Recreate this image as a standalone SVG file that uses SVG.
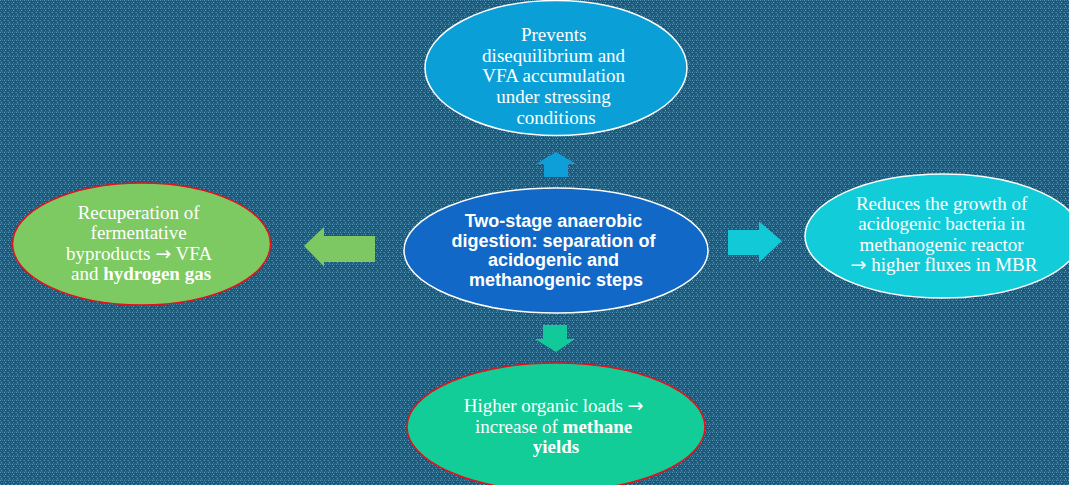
<svg xmlns="http://www.w3.org/2000/svg" width="1069" height="485" viewBox="0 0 1069 485">
  <defs>
    <pattern id="bg" width="8" height="8" patternUnits="userSpaceOnUse">
      <rect width="8" height="8" fill="#1d5878"/>
      <rect x="0" y="0" width="1" height="1" fill="#5093b4"/>
      <rect x="2" y="0" width="1" height="1" fill="#3d7ea0"/>
      <rect x="4" y="0" width="1" height="1" fill="#5093b4"/>
      <rect x="6" y="0" width="1" height="1" fill="#3d7ea0"/>
      <rect x="1" y="2" width="1" height="1" fill="#3d7ea0"/>
      <rect x="3" y="2" width="1" height="1" fill="#3d7ea0"/>
      <rect x="5" y="2" width="1" height="1" fill="#6ea9c6"/>
      <rect x="0" y="4" width="1" height="1" fill="#5093b4"/>
      <rect x="3" y="4" width="1" height="1" fill="#3d7ea0"/>
      <rect x="4" y="4" width="1" height="1" fill="#5093b4"/>
      <rect x="7" y="4" width="1" height="1" fill="#3d7ea0"/>
      <rect x="1" y="6" width="1" height="1" fill="#6ea9c6"/>
      <rect x="5" y="6" width="1" height="1" fill="#3d7ea0"/>
      <rect x="0" y="7" width="8" height="1" fill="#276284"/>
    </pattern>
    <style>
      .serif { font-family: "Liberation Serif", "Times New Roman", serif; font-size: 19px; fill: #ffffff; text-anchor: middle; }
      .sans { font-family: "Liberation Sans", Arial, sans-serif; font-size: 18px; font-weight: bold; fill: #ffffff; text-anchor: middle; }
      .b { font-weight: bold; }
      .arr { font-family: "DejaVu Sans", sans-serif; font-size: 19px; }
      .wstroke { stroke: #ffffff; stroke-width: 1.5; }
      .rstroke { stroke: #e8101a; stroke-width: 1.5; }
    </style>
  </defs>

  <rect width="1069" height="485" fill="url(#bg)"/>

  <g id="connectors">
    <polygon points="556,152 576,164 568,164 568,177 544,177 544,164 536,164" fill="#0e9fd8"/>
    <polygon points="304,246 324,227 324,236 375,236 375,262 324,262 324,266.5" fill="#7dc862"/>
    <polygon points="782,241 759,221.5 759,230 728,230 728,255 759,255 759,262.5" fill="#12c9d8"/>
    <polygon points="556,352 575,339 567,339 567,325 543,325 543,339 535,339" fill="#12c99a"/>
  </g>

  <g id="node-top">
    <ellipse cx="556" cy="68" rx="131" ry="67.5" fill="#0a9fd7" class="wstroke"/>
    <text class="serif">
      <tspan x="556" y="41">Prevents</tspan>
      <tspan x="556" y="61.7">disequilibrium and</tspan>
      <tspan x="556" y="82.4">VFA accumulation</tspan>
      <tspan x="556" y="103.1">under stressing</tspan>
      <tspan x="556" y="123.8">conditions</tspan>
    </text>
  </g>

  <g id="node-left">
    <ellipse cx="141.5" cy="244" rx="129" ry="61" fill="#7dc962" class="rstroke"/>
    <text class="serif">
      <tspan x="141" y="219">Recuperation of</tspan>
      <tspan x="141" y="239.3">fermentative</tspan>
      <tspan x="141" y="259.6">byproducts <tspan class="arr">→</tspan> VFA</tspan>
      <tspan x="141" y="280">and <tspan class="b">hydrogen gas</tspan></tspan>
    </text>
  </g>

  <g id="node-center">
    <ellipse cx="556" cy="250.5" rx="152" ry="62.5" fill="#1168c6" class="wstroke"/>
    <text class="sans">
      <tspan x="556" y="227">Two-stage anaerobic</tspan>
      <tspan x="556" y="246.5">digestion: separation of</tspan>
      <tspan x="556" y="266">acidogenic and</tspan>
      <tspan x="556" y="285.5">methanogenic steps</tspan>
    </text>
  </g>

  <g id="node-right">
    <ellipse cx="943" cy="236" rx="138" ry="62" fill="#12cdd9" class="wstroke"/>
    <text class="serif">
      <tspan x="944" y="209.5">Reduces the growth of</tspan>
      <tspan x="944" y="230">acidogenic bacteria in</tspan>
      <tspan x="944" y="250.5">methanogenic reactor</tspan>
      <tspan x="944" y="271"><tspan class="arr">→</tspan> higher fluxes in MBR</tspan>
    </text>
  </g>

  <g id="node-bottom">
    <ellipse cx="556" cy="427" rx="149" ry="64" fill="#12cd98" class="rstroke"/>
    <text class="serif">
      <tspan x="556" y="412.3">Higher organic loads <tspan class="arr">→</tspan></tspan>
      <tspan x="556" y="433">increase of <tspan class="b">methane</tspan></tspan>
      <tspan x="556" y="452.7" class="b">yields</tspan>
    </text>
  </g>
</svg>
